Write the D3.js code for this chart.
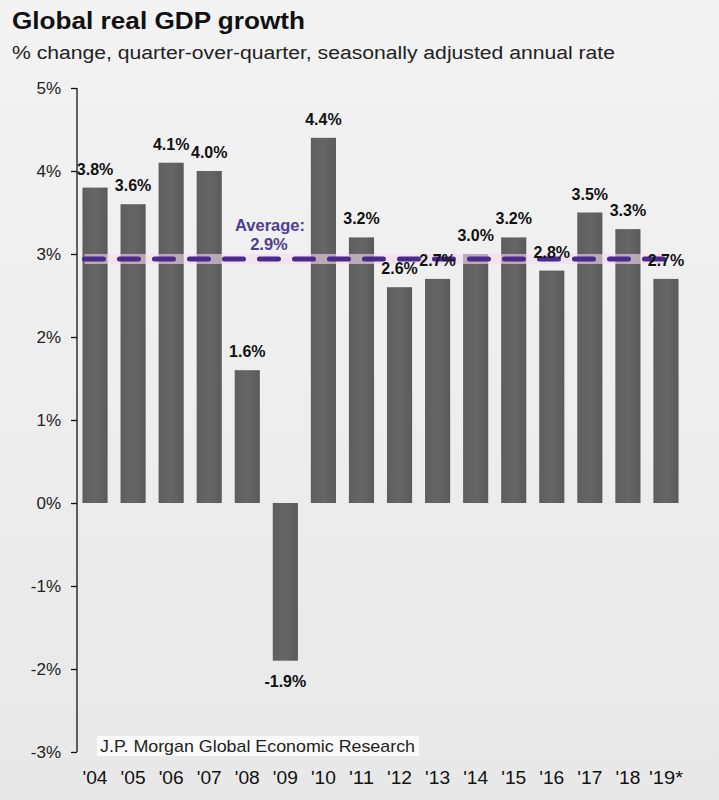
<!DOCTYPE html>
<html>
<head>
<meta charset="utf-8">
<script src="https://cdn.jsdelivr.net/npm/d3@7"></script>
<style>
  html, body { margin: 0; padding: 0; background: #fff; }
  svg { display: block; font-family: "Liberation Sans", Arial, sans-serif; }
</style>
</head>
<body>
<div id="chart"></div>
<script>
// Dados do gráfico
const years = ["'04", "'05", "'06", "'07", "'08", "'09", "'10", "'11", "'12", "'13", "'14", "'15", "'16", "'17", "'18", "'19*"];
const growth = [3.8, 3.6, 4.1, 4.0, 1.6, -1.9, 4.4, 3.2, 2.6, 2.7, 3.0, 3.2, 2.8, 3.5, 3.3, 2.7];
const average = 2.94;
const yTicks = [5, 4, 3, 2, 1, 0, -1, -2, -3];

const width = 719, height = 800;
const margin = { left: 77, right: 34, top: 88, bottom: 48 };

const svg = d3.select("#chart").append("svg")
  .attr("width", width)
  .attr("height", height);

// fundo cinza claro
const defs = svg.append("defs");
const bg = defs.append("linearGradient").attr("id", "bg").attr("x1", 0).attr("y1", 0).attr("x2", 0).attr("y2", 1);
bg.append("stop").attr("offset", "0%").attr("stop-color", "#f3f3f3");
bg.append("stop").attr("offset", "100%").attr("stop-color", "#e8e8e8");
const barGrad = defs.append("linearGradient").attr("id", "bar").attr("x1", 0).attr("y1", 0).attr("x2", 1).attr("y2", 0);
barGrad.append("stop").attr("offset", "0%").attr("stop-color", "#5e5e5e");
barGrad.append("stop").attr("offset", "50%").attr("stop-color", "#666666");
barGrad.append("stop").attr("offset", "100%").attr("stop-color", "#5a5a5a");

svg.append("rect").attr("x", 0).attr("y", 0).attr("width", width).attr("height", height).attr("fill", "url(#bg)");

const x = d3.scaleBand()
  .domain(years)
  .range([margin.left - 1, width - margin.right])
  .paddingInner(0.34)
  .paddingOuter(0.17);

const y = d3.scaleLinear()
  .domain([-3, 5])
  .range([height - margin.bottom, margin.top]);

// títulos
svg.append("text")
  .attr("x", 12).attr("y", 29)
  .attr("font-size", 24).attr("font-weight", "bold").attr("fill", "#111")
  .attr("textLength", 293).attr("lengthAdjust", "spacingAndGlyphs")
  .text("Global real GDP growth");

svg.append("text")
  .attr("x", 12).attr("y", 59)
  .attr("font-size", 18).attr("fill", "#222")
  .attr("textLength", 603).attr("lengthAdjust", "spacingAndGlyphs")
  .text("% change, quarter-over-quarter, seasonally adjusted annual rate");

// barras
svg.append("g")
  .selectAll("rect")
  .data(growth)
  .join("rect")
  .attr("x", (d, i) => x(years[i]))
  .attr("width", x.bandwidth())
  .attr("y", d => y(Math.max(0, d)))
  .attr("height", d => Math.abs(y(d) - y(0)))
  .attr("fill", "url(#bar)");

// eixo y
const yAxis = d3.axisLeft(y)
  .tickValues(yTicks)
  .tickSize(6)
  .tickPadding(10)
  .tickFormat(d => d + "%");

const gy = svg.append("g")
  .attr("transform", `translate(${margin.left},0)`)
  .call(yAxis);
gy.select(".domain").attr("stroke", "#111").attr("stroke-width", 1.3).attr("d", `M0,${y(5)}V${y(-3)}`);
gy.selectAll(".tick line").attr("stroke", "#111").attr("stroke-width", 1.3);
gy.selectAll(".tick text")
  .attr("font-size", 17).attr("fill", "#222")
  .attr("font-family", "Liberation Sans, Arial, sans-serif");

// linha média
const avgX1 = x(years[0]) + 2;
const avgX2 = x(years[years.length - 1]) + x.bandwidth() * 0.5;
svg.append("line")
  .attr("x1", avgX1).attr("x2", avgX2)
  .attr("y1", y(average)).attr("y2", y(average))
  .attr("stroke", "#f1dcee").attr("stroke-width", 10).attr("stroke-opacity", 0.6);
svg.append("line")
  .attr("x1", avgX1).attr("x2", avgX2)
  .attr("y1", y(average)).attr("y2", y(average))
  .attr("stroke", "#4a2a8c").attr("stroke-width", 5)
  .attr("stroke-dasharray", "19,16").attr("stroke-linecap", "round");

const avgLabel = svg.append("text")
  .attr("text-anchor", "middle")
  .attr("font-size", 16.5).attr("font-weight", "bold").attr("fill", "#4f3d92");
avgLabel.append("tspan").attr("x", 270).attr("y", y(average) - 28).text("Average:");
avgLabel.append("tspan").attr("x", 269).attr("y", y(average) - 9).text(average.toFixed(1) + "%");

// rótulos dos valores
svg.append("g")
  .selectAll("text")
  .data(growth)
  .join("text")
  .attr("x", (d, i) => x(years[i]) + x.bandwidth() / 2)
  .attr("y", d => d >= 0 ? y(d) - 13 : y(d) + 26)
  .attr("text-anchor", "middle")
  .attr("font-size", 16).attr("font-weight", "bold").attr("fill", "#111")
  .text(d => d.toFixed(1) + "%");

// rótulos dos anos
svg.append("g")
  .selectAll("text")
  .data(years)
  .join("text")
  .attr("x", d => x(d) + x.bandwidth() / 2)
  .attr("y", 784)
  .attr("text-anchor", "middle")
  .attr("font-size", 18).attr("fill", "#111")
  .attr("textLength", d => d.length > 3 ? 34 : 25).attr("lengthAdjust", "spacingAndGlyphs")
  .text(d => d);

// fonte
svg.append("rect")
  .attr("x", 97).attr("y", 736).attr("width", 322).attr("height", 20).attr("fill", "#fafafa");
svg.append("text")
  .attr("x", 100).attr("y", 752)
  .attr("font-size", 17).attr("fill", "#222")
  .attr("textLength", 315).attr("lengthAdjust", "spacingAndGlyphs")
  .text("J.P. Morgan Global Economic Research");
</script>
</body>
</html>
